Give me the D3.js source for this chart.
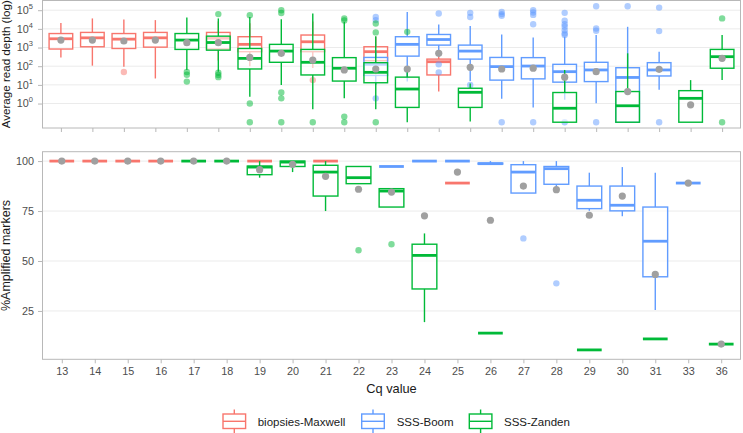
<!DOCTYPE html>
<html><head><meta charset="utf-8">
<script src="https://cdn.jsdelivr.net/npm/d3@7"></script>
<style>body{margin:0;background:#fff}</style>
</head><body><svg id="c" width="743" height="433"></svg>
<script>
// ---------------- DATA ----------------
const topCats = ["13","14","15","16","17","18","19","20","21","22","23","24","25","26","27","28","29","30","31","33","35","36"];
const botCats = ["13","14","15","16","17","18","19","20","21","22","23","24","25","26","27","28","29","30","31","33","36"];
const groups = ["biopsies-Maxwell","SSS-Boom","SSS-Zanden"];
const groupColors = ["#F8766D","#619CFF","#00BA38"];

// read depth boxplots: [cq, lowerWhisker, q1, median, q3, upperWhisker]
const depthMaxwell = [
  ["13",295,832,2950,5620,20900],["14",107,1100,3310,6460,36300],["15",95,891,2820,5620,31600],
  ["16",22,1050,3310,6460,29500],["18",200,832,3160,6460,25100],["19",100,600,1480,3800,20000],
  ["21",80,600,2040,4680,25100],["23",32,200,600,1100,3800],["25",4.4,34,174,240,490]
];
const depthMaxwellOut = [["15",49],["21",18]];
const depthBoom = [
  ["23",10,32,126,295,630],["24",15,347,1480,3800,81300],["25",316,1350,2690,5010,17000],
  ["26",16,240,646,1350,14100],["27",1.8,18,95,295,5010],["28",0.62,21,102,288,3470],
  ["29",1.6,14,51,126,3800],["30",1.05,15,63,162,4680],["31",0.1,0.1,25,83,12900],
  ["33",5.4,30,63,155,600]
];
const depthBoomOut = [
  ["23",43600],["23",29500],["23",1.9],["25",66100],["25",126],["25",47],
  ["26",72400],["26",43600],["26",10],["27",81300],["27",61700],["27",50100],["27",0.1],
  ["28",100000],["28",75900],["28",56200],["28",17800],["28",0.1],
  ["29",72400],["29",27000],["29",17800],["29",12900],["29",8510],["29",5620],["29",4680],["29",0.1],
  ["30",162000],["30",10500],["30",7940],["30",0.1],["31",162000],
  ["33",138000],["33",7590],["33",0.1]
];
const depthZanden = [
  ["17",63,794,2510,5620,40700],["18",51,724,1860,4070,36300],["19",2.3,71,263,891,43600],
  ["20",10,162,646,1480,33100],["21",0.5,34,162,794,66100],["22",1.9,16,78,288,24000],
  ["23",0.5,13,47,155,3980],["24",0.1,0.62,6.0,26,100],["26",0.11,0.62,4.0,6.6,12],
  ["29",0.1,0.1,0.56,3.9,63],["31",0.1,0.1,0.76,4.4,490],["35",0.1,0.1,1.9,4.9,18],
  ["36",18,78,324,794,4680]
];
const depthZandenOut = [
  ["17",49],["17",35],["17",15],["18",61700],["18",45],["18",34],["18",26],
  ["19",53700],["19",1],["19",0.1],["20",100000],["20",70800],["20",3.9],["20",1.9],["20",0.1],
  ["21",0.1],["22",36300],["22",28200],["22",0.2],["22",0.1],["23",19500],["23",6460],["23",0.1],
  ["24",6920],["36",36300],["36",0.1]
];
const depthMeans = [2510,2510,2240,2510,1820,1820,295,490,214,63,71,71,490,87,71,78,26,51,4.4,68,0.85,263];

// % amplified markers boxplots
const ampMaxwell = [
  ["13",100,100,100,100,100],["14",100,100,100,100,100],["15",100,100,100,100,100],
  ["16",100,100,100,100,100],["19",100,100,100,100,100],["21",100,100,100,100,100],
  ["25",89,89,89,89,89]
];
const ampMaxwellOut = [];
const ampBoom = [
  ["23",97.3,97.3,97.3,97.3,97.3],["24",100,100,100,100,100],["25",100,100,100,100,100],
  ["26",98.5,98.5,98.7,99,100],["27",84,84,94.5,98.2,100],["28",87,88.4,96.2,97.3,100],
  ["29",75.1,76.2,80.4,87.5,94.2],["30",72.4,75.1,77.9,87.5,97],["31",25.5,42.1,59.9,77,94.2],
  ["33",89,89,89,89,89]
];
const ampBoomOut = [["27",61.3],["28",38.8]];
const ampZanden = [
  ["17",100,100,100,100,100],["18",100,100,100,100,100],["19",91.7,93.2,97,97.5,100],
  ["20",94.5,97.3,99.5,100,100],["21",75,82.5,94.5,97.9,100],["22",88.7,88.7,91.7,97.3,97.3],
  ["23",77,77,85,86.2,86.2],["24",19.4,36,52.8,58.4,63.8],["26",13.9,13.9,13.9,13.9,13.9],
  ["29",5.5,5.5,5.5,5.5,5.5],["31",11,11,11,11,11],["36",8.4,8.4,8.4,8.4,8.4]
];
const ampZandenOut = [["22",55.4],["23",58.4]];
const ampMeans = [100,100,100,100,100,100,95.7,98.4,92.4,85.9,84.5,72.6,94.5,70.4,87.5,85.7,72.9,82.5,43.3,89,8.4];

const depthTicks = [1,10,100,1000,10000,100000];
const ampTicks = [25,50,75,100];

// ---------------- DRAW ----------------
const FONT = '"Liberation Sans", Arial, Helvetica, sans-serif';
const svg = d3.select("#c").style("font-family", FONT);
const PL = 42, PR = 741;
const topY0 = 0.5, topY1 = 128, botY0 = 151.7, botY1 = 359.3;

const xTop = d3.scalePoint().domain(topCats).range([PL, PR]).padding(0.6);
const xBot = d3.scalePoint().domain(botCats).range([PL, PR]).padding(0.6);
const yTop = d3.scaleLog().domain([Math.pow(10,-1.31), Math.pow(10,5.52)]).range([topY1, topY0]);
const yBot = d3.scaleLinear().domain([0.8, 104.7]).range([botY1, botY0]);

const GRID = "#EBEBEB", BORDER = "#B8B8B8", TICKTXT = "#4D4D4D";

function grid(ticks, y) {
  svg.append("g").selectAll("line").data(ticks).join("line")
    .attr("x1", PL).attr("x2", PR)
    .attr("y1", d => y(d)).attr("y2", d => y(d))
    .attr("stroke", GRID).attr("stroke-width", 1);
}
grid(depthTicks, yTop);
grid(ampTicks, yBot);

function boxes(rows, outs, x, y, color, bw) {
  const g = svg.append("g");
  rows.forEach(r => {
    const cx = x(r[0]);
    const [lo, q1, md, q3, hi] = r.slice(1).map(v => y(v));
    g.append("line").attr("x1", cx).attr("x2", cx).attr("y1", q3).attr("y2", hi)
      .attr("stroke", color).attr("stroke-width", 1.4);
    g.append("line").attr("x1", cx).attr("x2", cx).attr("y1", q1).attr("y2", lo)
      .attr("stroke", color).attr("stroke-width", 1.4);
    g.append("rect").attr("x", cx - bw/2).attr("width", bw)
      .attr("y", Math.min(q1, q3)).attr("height", Math.abs(q1 - q3))
      .attr("fill", "#fff").attr("fill-opacity", 0.6)
      .attr("stroke", color).attr("stroke-width", 1.4);
    g.append("line").attr("x1", cx - bw/2).attr("x2", cx + bw/2).attr("y1", md).attr("y2", md)
      .attr("stroke", color).attr("stroke-width", 2.8);
  });
  g.selectAll("circle").data(outs).join("circle")
    .attr("cx", d => x(d[0])).attr("cy", d => y(d[1])).attr("r", 3.2)
    .attr("fill", color).attr("fill-opacity", 0.5);
}

const bwTop = xTop.step() * 0.75, bwBot = xBot.step() * 0.75;
boxes(depthMaxwell, depthMaxwellOut, xTop, yTop, groupColors[0], bwTop);
boxes(depthBoom, depthBoomOut, xTop, yTop, groupColors[1], bwTop);
boxes(depthZanden, depthZandenOut, xTop, yTop, groupColors[2], bwTop);
boxes(ampMaxwell, ampMaxwellOut, xBot, yBot, groupColors[0], bwBot);
boxes(ampBoom, ampBoomOut, xBot, yBot, groupColors[1], bwBot);
boxes(ampZanden, ampZandenOut, xBot, yBot, groupColors[2], bwBot);

svg.append("g").selectAll("circle").data(depthMeans).join("circle")
  .attr("cx", (d,i) => xTop(topCats[i])).attr("cy", d => yTop(d)).attr("r", 3.6).attr("fill", "#A0A0A0");
svg.append("g").selectAll("circle").data(ampMeans).join("circle")
  .attr("cx", (d,i) => xBot(botCats[i])).attr("cy", d => yBot(d)).attr("r", 3.6).attr("fill", "#A0A0A0");

// panel borders
svg.append("rect").attr("x", PL + 0.5).attr("y", topY0).attr("width", PR - PL - 1).attr("height", topY1 - topY0)
  .attr("fill", "none").attr("stroke", BORDER).attr("stroke-width", 1);
svg.append("rect").attr("x", PL + 0.5).attr("y", botY0).attr("width", PR - PL - 1).attr("height", botY1 - botY0)
  .attr("fill", "none").attr("stroke", BORDER).attr("stroke-width", 1);

// x axes
const axTop = svg.append("g").attr("transform", `translate(0,${topY1})`)
  .call(d3.axisBottom(xTop).tickSize(4).tickFormat(""));
const axBot = svg.append("g").attr("transform", `translate(0,${botY1})`)
  .call(d3.axisBottom(xBot).tickSize(4).tickPadding(4));
[axTop, axBot].forEach(a => {
  a.select(".domain").remove();
  a.selectAll(".tick line").attr("stroke", BORDER);
  a.selectAll(".tick text").attr("fill", TICKTXT).style("font-size", "10.8px").style("font-family", FONT);
});

// y axes
const ayTop = svg.append("g").attr("transform", `translate(${PL},0)`)
  .call(d3.axisLeft(yTop).tickValues(depthTicks).tickSize(4).tickFormat(""));
ayTop.select(".domain").remove();
ayTop.selectAll(".tick line").attr("stroke", BORDER);
const lbl = svg.append("g").selectAll("text").data(depthTicks).join("text")
  .attr("x", 33).attr("y", d => yTop(d) + 3.8).attr("text-anchor", "end")
  .attr("fill", TICKTXT).style("font-size", "10.8px");
lbl.append("tspan").text("10");
lbl.append("tspan").attr("dy", -5).style("font-size", "7.5px").text(d => Math.round(Math.log10(d)));

const ayBot = svg.append("g").attr("transform", `translate(${PL},0)`)
  .call(d3.axisLeft(yBot).tickValues(ampTicks).tickSize(4).tickPadding(4));
ayBot.select(".domain").remove();
ayBot.selectAll(".tick line").attr("stroke", BORDER);
ayBot.selectAll(".tick text").attr("fill", TICKTXT).style("font-size", "10.8px").style("font-family", FONT);

// titles
svg.append("text").attr("transform", `translate(10,${(topY0 + topY1)/2}) rotate(-90)`)
  .attr("text-anchor", "middle").style("font-size", "11.6px").attr("fill", "#1A1A1A")
  .text("Average read depth (log)");
svg.append("text").attr("transform", `translate(10,${(botY0 + botY1)/2}) rotate(-90)`)
  .attr("text-anchor", "middle").style("font-size", "12.5px").attr("fill", "#1A1A1A")
  .text("%Amplified markers");
svg.append("text").attr("x", (PL + PR)/2).attr("y", 392.5).attr("text-anchor", "middle")
  .style("font-size", "12.8px").attr("fill", "#1A1A1A").text("Cq value");

// legend
const keyX = [223, 361.7, 469.3], labX = [257.7, 396.7, 504];
groups.forEach((gname, i) => {
  const g = svg.append("g");
  const c = groupColors[i], cx = keyX[i] + 11.3;
  g.append("line").attr("x1", cx).attr("x2", cx).attr("y1", 409.5).attr("y2", 433).attr("stroke", c).attr("stroke-width", 1.4);
  g.append("rect").attr("x", keyX[i]).attr("y", 414).attr("width", 22.6).attr("height", 14.5)
    .attr("fill", "#fff").attr("stroke", c).attr("stroke-width", 1.4);
  g.append("line").attr("x1", keyX[i]).attr("x2", keyX[i] + 22.6).attr("y1", 421.3).attr("y2", 421.3)
    .attr("stroke", c).attr("stroke-width", 1.4);
  g.append("text").attr("x", labX[i]).attr("y", 425.5).style("font-size", "11.5px").attr("fill", "#1A1A1A").text(gname);
});
</script></body></html>
